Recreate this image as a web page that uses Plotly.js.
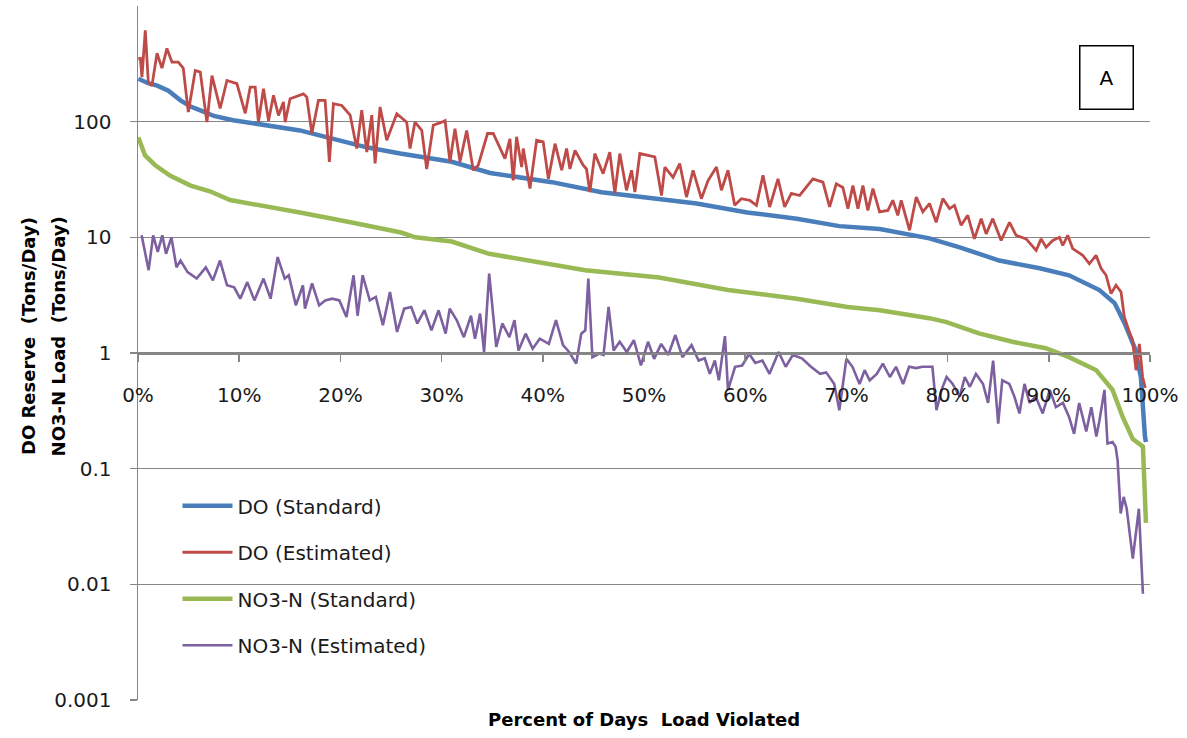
<!DOCTYPE html>
<html>
<head>
<meta charset="utf-8">
<script src="https://cdn.plot.ly/plotly-3.0.1.min.js"></script>
<style>html,body{margin:0;padding:0;background:#fff;}#chart{width:1187px;height:738px;}</style>
</head>
<body>
<div id="chart"></div>
<script>
// Percent of days load violated (x, %) and loads (Tons/Day)
const doStdX = [0.03,0.5,1.0,1.9,3.0,4.2,5.2,6.1,7.5,9.4,12.8,16.0,19.3,22.6,25.9,31.0,34.8,40.9,45.8,50.6,55.2,60.2,65.1,69.3,73.3,78.2,81.2,85.1,89.1,92.0,95.0,96.5,97.5,98.5,99.1,99.5,99.6];
const doStdY = [235,225,215,205,185,153,135,126,112,103,93,84,71,60,53,45,36,30,24.5,22,19.6,16.4,14.5,12.5,11.8,9.8,8.2,6.3,5.4,4.7,3.5,2.7,1.8,1.1,0.62,0.19,0.17];

const doEstX = [0.03,0.23,0.39,0.72,1.02,1.38,1.88,2.37,2.86,3.36,3.98,4.47,4.97,5.66,6.15,6.81,7.31,8.12,8.79,9.77,10.6,11.09,11.58,11.9,12.4,12.9,13.39,13.88,14.37,14.54,15.03,16.35,16.68,17.18,17.83,18.49,18.91,19.31,20.14,20.96,21.62,22.11,22.61,23.1,23.43,23.92,24.58,25.57,26.55,26.88,27.37,28.04,28.53,29.18,30.01,30.34,30.83,31.32,31.82,32.48,33.13,33.62,34.54,35.1,36.26,36.75,37.08,37.41,37.91,38.07,38.73,39.39,40.04,40.55,41.21,41.87,42.35,42.68,43.18,43.99,44.32,44.65,45.14,45.96,46.62,47.12,47.61,48.27,48.77,49.1,49.59,50.58,51.07,51.73,52.06,52.87,53.53,54.2,54.85,55.67,56.33,57.16,57.65,58.3,58.96,59.62,60.45,61.11,61.76,62.42,63.24,63.9,64.56,65.38,66.69,67.68,68.34,69.0,69.65,70.15,70.64,71.14,71.63,72.12,72.62,73.28,74.1,74.59,75.08,75.42,76.24,76.9,77.55,78.21,78.87,79.53,80.19,80.68,81.34,81.99,82.65,83.32,83.81,84.46,85.29,86.12,86.77,87.76,88.75,89.24,89.73,90.39,91.05,91.38,91.87,92.36,93.35,94.01,94.67,95.16,95.66,96.15,96.64,97.14,97.46,97.96,98.28,98.62,98.95,99.27,99.54];
const doEstY = [350,352,243,617,219,205,390,290,430,327,327,290,121,277,268,99,250,130,227,213,118,199,199,99,193,102,169,113,148,99,158,174,163,79,153,153,45,143,138,114,58.5,126,54.6,114,43.5,134,69,117,99,58.5,99,84,39,93,99,102,45,87,45,84,38,42,79,79,48,71,31,74,40.5,58.5,26.4,69,67,32,64.5,38,58.5,39,56.5,42,39,24.6,53,35.5,54.6,24,53,25.5,38,24.6,53,51,49.5,23,40.5,33,43.4,22.3,38,21.6,31,40.5,25.5,38,18.9,21.6,20.9,18.9,34.4,18.3,32,18.3,24,23,32,30,18.3,29,27,17.7,28,17.7,28,17.1,26.4,16.6,17.1,20.9,15.5,20.9,11.5,22.3,16.6,19.6,13.5,21.6,17.7,18.9,12.7,15.5,9.7,14.5,10.7,14.5,9.4,13.5,10.4,9.7,7.7,9.7,8.2,9.4,10,8.5,10.4,8,7.0,5.9,7.0,5.4,4.7,3.26,3.85,3.37,2.05,1.52,1.29,0.71,1.2,0.62,0.5];

const no3StdX = [0.03,0.7,1.7,3.2,5.2,7.1,9.1,12.0,16.0,21.0,26.0,27.4,31.0,34.7,44.2,51.5,58.3,65.1,70.1,73.3,78.2,79.9,83.1,86.4,89.7,92.0,94.7,96.3,97.3,98.3,99.3,99.6];
const no3StdY = [73,51,42,34,28,25,21,19,16.4,13.5,11,10,9.2,7.2,5.2,4.5,3.5,2.95,2.5,2.34,2.0,1.85,1.48,1.25,1.1,0.92,0.71,0.48,0.28,0.18,0.155,0.034];

const no3EstX = [0.36,1.05,1.5,1.95,2.4,2.77,3.3,3.8,4.2,4.9,5.8,6.7,7.4,8.1,8.8,9.5,10.1,10.8,11.5,12.4,13.1,13.8,14.5,14.9,15.6,16.3,16.5,17.2,17.9,18.5,19.2,19.9,20.6,21.3,21.7,22.2,22.9,23.5,24.2,24.9,25.6,26.3,27.0,27.6,28.3,29.0,29.7,30.4,30.8,31.5,32.2,32.9,33.3,33.8,34.2,34.7,35.4,36.0,36.7,37.2,37.6,38.3,39.0,39.7,40.6,41.3,42.0,42.6,43.3,43.8,44.2,44.5,44.9,45.6,46.0,46.5,47.0,47.6,48.3,49.0,49.7,50.4,51.0,51.7,52.4,53.1,53.8,54.7,55.4,56.0,56.5,57.0,57.4,58.0,58.3,59.0,59.7,60.4,61.0,61.7,62.4,63.3,64.0,64.7,65.6,66.5,67.4,68.0,68.8,69.3,70.0,70.6,71.3,71.8,72.3,73.0,73.6,74.3,74.9,75.6,76.2,76.9,77.5,78.5,78.9,79.4,79.9,80.5,81.2,81.7,82.2,82.8,83.5,84.0,84.5,85.0,85.4,86.1,86.6,87.1,87.6,88.1,88.7,89.4,90.1,90.7,91.4,92.0,92.5,93.0,93.7,94.2,94.7,95.0,95.5,95.8,96.3,96.6,96.8,97.1,97.4,97.7,98.3,98.9,99.3];
const no3EstY = [10.4,5.2,10.4,7.5,10.4,7.2,10,5.5,6.3,5.0,4.4,5.5,4.25,6.3,3.85,3.7,2.95,4.1,2.85,4.4,2.95,6.75,4.4,4.7,2.58,3.85,2.42,4.0,2.58,2.85,2.95,2.85,2.05,4.7,2.1,4.7,2.85,3.05,1.74,3.37,1.52,2.42,2.5,1.8,2.34,1.57,2.34,1.47,2.42,1.92,1.37,2.1,1.33,2.19,1.02,4.85,1.13,1.8,1.37,1.92,1.05,1.47,1.09,1.33,1.2,1.92,1.17,1.02,0.81,1.47,1.57,4.4,0.92,0.99,0.96,2.5,1.05,1.25,1.02,1.29,0.78,1.25,0.89,1.2,0.96,1.43,0.92,1.17,0.86,0.9,0.66,0.86,0.58,1.4,0.48,0.76,0.78,0.98,0.82,0.86,0.66,1.02,0.76,0.96,0.9,0.76,0.66,0.68,0.54,0.32,0.89,0.76,0.54,0.71,0.58,0.66,0.81,0.62,0.76,0.54,0.76,0.74,0.76,0.76,0.32,0.48,0.62,0.54,0.42,0.62,0.51,0.66,0.54,0.37,0.86,0.245,0.58,0.54,0.42,0.3,0.54,0.37,0.42,0.3,0.48,0.34,0.37,0.28,0.2,0.37,0.21,0.34,0.19,0.26,0.48,0.165,0.17,0.155,0.118,0.041,0.057,0.045,0.0167,0.045,0.0083];

const seriesNames = ['DO (Standard)','DO (Estimated)','NO3-N (Standard)','NO3-N (Estimated)'];
const xTickVals = [0,10,20,30,40,50,60,70,80,90,100];
const xTickText = ['0%','10%','20%','30%','40%','50%','60%','70%','80%','90%','100%'];
const yTickVals = [0.001,0.01,0.1,1,10,100];
const yTickText = ['0.001','0.01','0.1','1','10','100'];

const FONT = 'DejaVu Sans, Arial, sans-serif';
const mk = (x, y, name, color, width, grp) => ({
  type: 'scatter', mode: 'lines', x: x, y: y, name: name, legendgroup: grp,
  line: {color: color, width: width}
});

const data = [
  mk(doStdX, doStdY, seriesNames[0], '#4A7EBB', 4.5, 'g1'),
  mk(doEstX, doEstY, seriesNames[1], '#BE4B48', 2.8, 'g2'),
  mk(no3StdX, no3StdY, seriesNames[2], '#98B954', 4.5, 'g3'),
  mk(no3EstX, no3EstY, seriesNames[3], '#7D60A0', 2.6, 'g4')
];

const layout = {
  width: 1187, height: 738,
  margin: {l: 138, r: 37, t: 6, b: 38},
  paper_bgcolor: '#ffffff', plot_bgcolor: '#ffffff',
  font: {family: FONT, color: '#1a1a1a', size: 20},
  showlegend: true,
  legend: {
    x: 0.039, y: 0.308, xanchor: 'left', yanchor: 'top',
    font: {family: FONT, size: 20, color: '#1a1a1a'},
    bgcolor: 'rgba(255,255,255,0)', tracegroupgap: 17.5, itemwidth: 50
  },
  xaxis: {
    range: [0, 100], anchor: 'free', position: 0.5,
    tickvals: xTickVals, ticktext: xTickText,
    showgrid: false, zeroline: false,
    showline: true, linecolor: '#868686', linewidth: 1.5,
    ticks: 'outside', ticklen: 7, tickcolor: '#868686', tickwidth: 1.5,
    ticklabelstandoff: 16,
    tickfont: {family: FONT, size: 20, color: '#1a1a1a'},
    fixedrange: true
  },
  yaxis: {
    type: 'log', range: [-3, 3],
    tickvals: yTickVals, ticktext: yTickText,
    showgrid: true, gridcolor: '#868686', gridwidth: 1.5,
    zeroline: false, showline: true, linecolor: '#868686', linewidth: 1.5,
    ticks: 'outside', ticklen: 7, tickcolor: '#868686', tickwidth: 1.5,
    ticklabelstandoff: 14,
    tickfont: {family: FONT, size: 20, color: '#1a1a1a'},
    fixedrange: true
  },
  annotations: [
    {text: '<b>Percent of Days  Load Violated</b>', xref: 'paper', yref: 'paper',
     x: 0.5, y: -0.01, xanchor: 'center', yanchor: 'top', showarrow: false,
     font: {family: FONT, size: 18, color: '#000'}},
    {text: '<b>DO Reserve  (Tons/Day)</b>', xref: 'paper', yref: 'paper',
     x: -0.108, y: 0.524, xanchor: 'center', yanchor: 'middle', textangle: -90, showarrow: false,
     font: {family: FONT, size: 18, color: '#000'}},
    {text: '<b>NO3-N Load  (Tons/Day)</b>', xref: 'paper', yref: 'paper',
     x: -0.079, y: 0.524, xanchor: 'center', yanchor: 'middle', textangle: -90, showarrow: false,
     font: {family: FONT, size: 18, color: '#000'}},
    {text: 'A', xref: 'paper', yref: 'paper', x: 0.957, y: 0.897,
     xanchor: 'center', yanchor: 'middle', showarrow: false,
     width: 50, height: 60, bordercolor: '#000', borderwidth: 1.5, borderpad: 1,
     bgcolor: '#fff', font: {family: FONT, size: 20, color: '#000'}}
  ]
};

Plotly.newPlot('chart', data, layout, {displayModeBar: false, staticPlot: true});
</script>
</body>
</html>
